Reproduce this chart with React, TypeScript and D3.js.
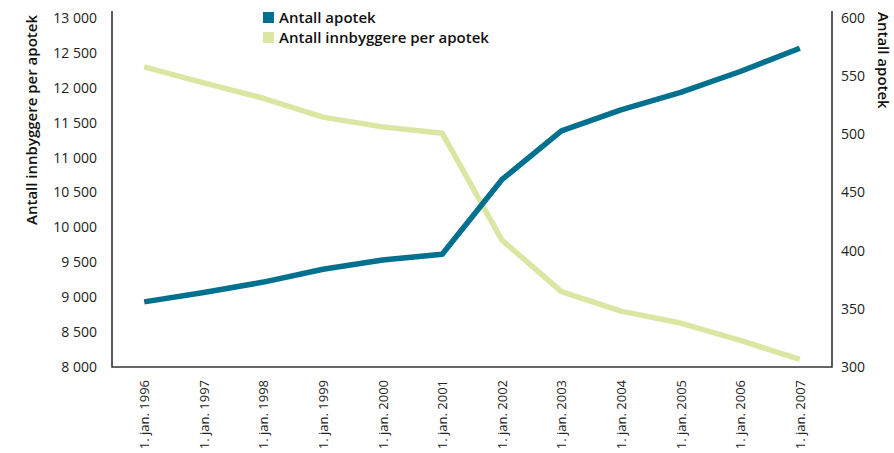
import React, { useEffect, useRef } from "react";
import * as d3 from "d3";

const years = ["1996", "1997", "1998", "1999", "2000", "2001", "2002", "2003", "2004", "2005", "2006", "2007"];
const categories = years.map((y) => `1. jan. ${y}`);
const antallApotek = [356, 364, 373, 384, 392, 397, 461, 503, 521, 536, 554, 574];
const innbyggerePerApotek = [12300, 12070, 11850, 11580, 11440, 11350, 9820, 9080, 8800, 8630, 8380, 8110];
const leftTicks = [8000, 8500, 9000, 9500, 10000, 10500, 11000, 11500, 12000, 12500, 13000];
const rightTicks = [300, 350, 400, 450, 500, 550, 600];
const seriesNames = ["Antall apotek", "Antall innbyggere per apotek"];
const leftTitle = "Antall innbyggere per apotek";
const rightTitle = "Antall apotek";

const BLUE = "#00708f";
const GREEN = "#dbe6a3";
const FONT = "'Open Sans', 'DejaVu Sans', sans-serif";

export default function App() {
  const ref = useRef<SVGSVGElement | null>(null);

  useEffect(() => {
    const svg = d3.select(ref.current);
    svg.selectAll("*").remove();

    const left = 112, right = 832, top = 18, bottom = 367;

    const x = d3.scalePoint<string>().domain(categories).range([left, right]).padding(0.54);
    const yL = d3.scaleLinear().domain([8000, 13000]).range([bottom, top]);
    const yR = d3.scaleLinear().domain([300, 600]).range([bottom, top]);

    const loc = d3.formatLocale({ decimal: ",", thousands: " ", grouping: [3], currency: ["", ""] });
    const fmt = loc.format(",d");

    // Left axis
    const gL = svg.append("g").attr("transform", `translate(${left},0)`)
      .call(d3.axisLeft(yL).tickValues(leftTicks).tickSize(0).tickPadding(15).tickFormat((d) => fmt(d as number)));
    gL.select(".domain").remove();
    gL.selectAll("text").attr("font-family", FONT).attr("font-size", 14).attr("fill", "#222");

    // Right axis
    const gR = svg.append("g").attr("transform", `translate(${right},0)`)
      .call(d3.axisRight(yR).tickValues(rightTicks).tickSize(0).tickPadding(9).tickFormat((d) => String(d)));
    gR.select(".domain").remove();
    gR.selectAll("text").attr("font-family", FONT).attr("font-size", 14).attr("fill", "#222");

    // Bottom axis
    const gB = svg.append("g").attr("transform", `translate(0,${bottom})`)
      .call(d3.axisBottom(x).tickSize(0));
    gB.select(".domain").remove();
    gB.selectAll("text")
      .attr("font-family", FONT).attr("font-size", 13).attr("fill", "#222")
      .attr("transform", "rotate(-90)")
      .attr("x", -13).attr("y", 0).attr("dy", "0.35em")
      .style("text-anchor", "end");

    // Axis frame lines
    svg.append("path")
      .attr("d", `M${left},11V${bottom}H${right}V11`)
      .attr("fill", "none").attr("stroke", "#333").attr("stroke-width", 1.6);

    // Lines
    const lineL = d3.line<number>().x((_, i) => x(categories[i])!).y((d) => yL(d));
    const lineR = d3.line<number>().x((_, i) => x(categories[i])!).y((d) => yR(d));

    svg.append("path").datum(innbyggerePerApotek).attr("d", lineL)
      .attr("fill", "none").attr("stroke", GREEN).attr("stroke-width", 5.5).attr("stroke-linejoin", "round");
    svg.append("path").datum(antallApotek).attr("d", lineR)
      .attr("fill", "none").attr("stroke", BLUE).attr("stroke-width", 5.5).attr("stroke-linejoin", "round");

    // Axis titles
    svg.append("text")
      .attr("transform", `translate(37,120) rotate(-90)`)
      .attr("text-anchor", "middle")
      .attr("font-family", FONT).attr("font-size", 15).attr("font-weight", 600).attr("fill", "#111")
      .text(leftTitle);
    svg.append("text")
      .attr("transform", `translate(878,12) rotate(90)`)
      .attr("text-anchor", "start")
      .attr("font-family", FONT).attr("font-size", 15).attr("font-weight", 600).attr("fill", "#111")
      .text(rightTitle);

    // Legend
    const colors = [BLUE, GREEN];
    const lg = svg.append("g");
    seriesNames.forEach((name, i) => {
      const yy = 12 + i * 20;
      lg.append("rect").attr("x", 263).attr("y", yy).attr("width", 11).attr("height", 11).attr("fill", colors[i]);
      lg.append("text").attr("x", 279).attr("y", yy + 10.5)
        .attr("font-family", FONT).attr("font-size", 15).attr("font-weight", 600).attr("fill", "#111")
        .text(name);
    });
  }, []);

  return (
    <svg
      ref={ref}
      width={894}
      height={453}
      style={{ position: "absolute", left: 0, top: 0, background: "#fff" }}
    />
  );
}
